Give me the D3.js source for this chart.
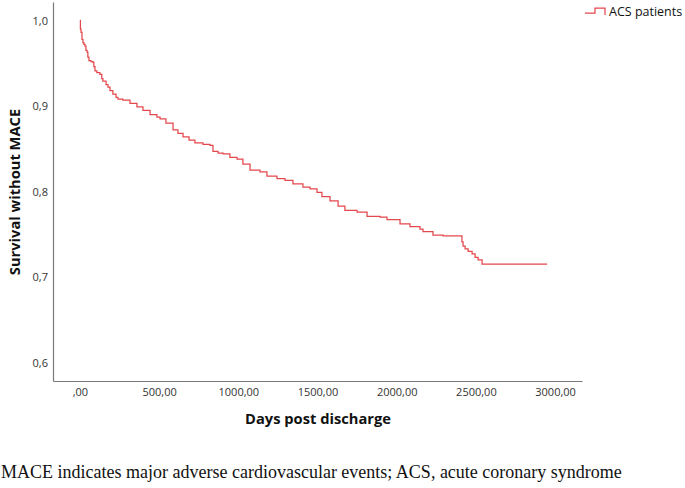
<!DOCTYPE html>
<html><head><meta charset="utf-8">
<script src="https://cdn.jsdelivr.net/npm/d3@7"></script>
<style>body{margin:0;background:#fff}svg{display:block}</style>
</head><body>
<svg id="chart" width="685" height="488"></svg>
<script>
const seriesName = "ACS patients";
const days = [0,3,7,13,19,25,32,38,45,50,57,70,82,88,95,107,126,138,145,165,177,190,208,228,240,271,316,360,398,443,486,506,543,588,619,651,689,726,777,821,840,872,904,947,992,1029,1074,1137,1181,1244,1295,1345,1408,1453,1497,1528,1579,1630,1673,1750,1813,1895,1939,2021,2084,2147,2166,2229,2293,2412,2419,2432,2451,2476,2495,2514,2539,2678,2950];
const survival = [1.000,0.990,0.986,0.978,0.974,0.972,0.970,0.965,0.963,0.957,0.953,0.952,0.951,0.946,0.941,0.939,0.937,0.932,0.929,0.925,0.922,0.918,0.914,0.910,0.908,0.907,0.903,0.899,0.895,0.890,0.887,0.885,0.880,0.872,0.868,0.864,0.860,0.857,0.855,0.854,0.847,0.845,0.844,0.840,0.838,0.832,0.825,0.823,0.818,0.815,0.813,0.809,0.805,0.803,0.799,0.794,0.789,0.783,0.778,0.776,0.771,0.770,0.767,0.762,0.759,0.756,0.753,0.749,0.748,0.741,0.736,0.733,0.730,0.727,0.723,0.720,0.715,0.715];
const xTicks = [0,500,1000,1500,2000,2500,3000];
const xTickLabels = [",00","500,00","1000,00","1500,00","2000,00","2500,00","3000,00"];
const yTicks = [0.6,0.7,0.8,0.9,1.0];
const yTickLabels = ["0,6","0,7","0,8","0,9","1,0"];
const xTitle = "Days post discharge";
const yTitle = "Survival without MACE";
const caption = "MACE indicates major adverse cardiovascular events; ACS, acute coronary syndrome";

const svg = d3.select("#chart");
const x = d3.scaleLinear().domain([-170, 3170]).range([53, 582]);
const y = d3.scaleLinear().domain([0.5784, 1.0216]).range([381, 2]);
const red = "#e4474c";
const axisCol = "#7a7a7a";
const tickFont = "'Open Sans', 'DejaVu Sans', sans-serif";

// axes
const xAxis = d3.axisBottom(x).tickValues(xTicks).tickSize(0).tickPadding(7)
  .tickFormat((d,i)=>xTickLabels[i]);
const gx = svg.append("g").attr("transform","translate(0,381)").call(xAxis);
const yAxis = d3.axisLeft(y).tickValues(yTicks).tickSize(0).tickPadding(5)
  .tickFormat((d,i)=>yTickLabels[i]);
const gy = svg.append("g").attr("transform","translate(53,0)").call(yAxis);
[gx,gy].forEach(g=>{
  g.select(".domain").attr("stroke",axisCol).attr("stroke-width",1.2);
  g.selectAll("text").attr("fill","#333").style("font-family",tickFont).style("font-size","11px");
});

// curve
const data = days.map((d,i)=>({d, s: survival[i]}));
svg.append("path").datum(data)
  .attr("fill","none").attr("stroke",red).attr("stroke-width",1.25)
  .attr("d", d3.line().x(p=>x(p.d)).y(p=>y(p.s)).curve(d3.curveStepAfter));

// titles
svg.append("text").attr("x",318).attr("y",424).attr("text-anchor","middle")
  .style("font-family","'Open Sans', sans-serif").style("font-weight","bold").style("font-size","14.7px")
  .attr("fill","#111").text(xTitle);
svg.append("text").attr("transform","translate(20,192) rotate(-90)").attr("text-anchor","middle")
  .style("font-family","'Open Sans', sans-serif").style("font-weight","bold").style("font-size","14.7px")
  .attr("fill","#111").text(yTitle);

// legend
const lg = svg.append("g");
lg.append("path").attr("fill","none").attr("stroke",red).attr("stroke-width",1.25)
  .attr("d", d3.line()([[585,13],[595,13],[595,8],[605,8],[605,15]]));
lg.append("text").attr("x",609).attr("y",16).attr("fill","#111")
  .style("font-family","'Open Sans', sans-serif").style("font-size","12.5px").text(seriesName);

// caption
svg.append("text").attr("x",1).attr("y",478).attr("fill","#111")
  .style("font-family","'Liberation Serif', serif").style("font-size","18px").text(caption);
</script>
</body></html>
